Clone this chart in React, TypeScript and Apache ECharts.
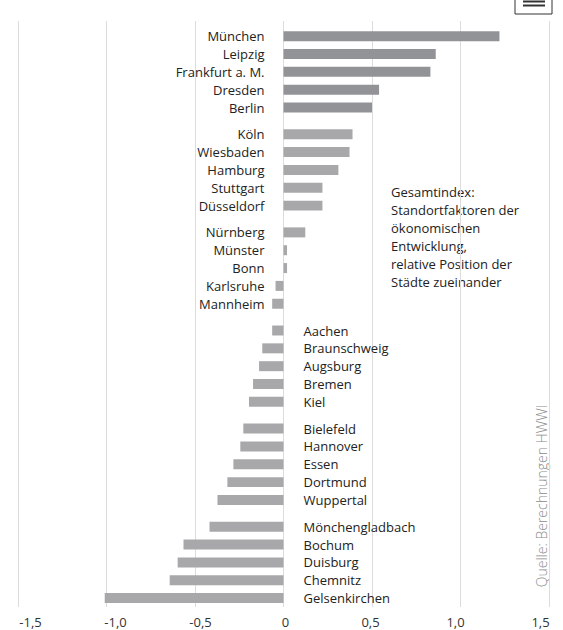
import React, { useEffect, useRef } from "react";
import * as echarts from "echarts";

const cities = [
  "München", "Leipzig", "Frankfurt a. M.", "Dresden", "Berlin",
  "Köln", "Wiesbaden", "Hamburg", "Stuttgart", "Düsseldorf",
  "Nürnberg", "Münster", "Bonn", "Karlsruhe", "Mannheim",
  "Aachen", "Braunschweig", "Augsburg", "Bremen", "Kiel",
  "Bielefeld", "Hannover", "Essen", "Dortmund", "Wuppertal",
  "Mönchengladbach", "Bochum", "Duisburg", "Chemnitz", "Gelsenkirchen",
];
const values = [
  1.22, 0.86, 0.83, 0.54, 0.5,
  0.39, 0.373, 0.31, 0.22, 0.22,
  0.123, 0.02, 0.02, -0.045, -0.064,
  -0.064, -0.12, -0.138, -0.172, -0.195,
  -0.227, -0.244, -0.283, -0.317, -0.373,
  -0.418, -0.565, -0.598, -0.643, -1.01,
];
const groups = [
  0, 0, 0, 0, 0,
  1, 1, 1, 1, 1,
  2, 2, 2, 2, 2,
  3, 3, 3, 3, 3,
  4, 4, 4, 4, 4,
  5, 5, 5, 5, 5,
];
const xTicks = [-1.5, -1.0, -0.5, 0, 0.5, 1.0, 1.5];
const xTickLabels = ["-1,5", "-1,0", "-0,5", "0", "0,5", "1,0", "1,5"];
const noteLines = [
  "Gesamtindex:",
  "Standortfaktoren der",
  "ökonomischen",
  "Entwicklung,",
  "relative Position der",
  "Städte zueinander",
];
const sourceText = "Quelle: Berechnungen HWWI";

const FONT = '"Open Sans", "DejaVu Sans", sans-serif';

export default function App() {
  const ref = useRef<HTMLDivElement>(null);
  useEffect(() => {
    document.body.style.margin = "0";
    if (!ref.current) return;
    const chart = echarts.init(ref.current, null, { renderer: "svg" });
    const rowInGroup: number[] = [];
    const counts: Record<number, number> = {};
    groups.forEach((g) => {
      counts[g] = counts[g] || 0;
      rowInGroup.push(counts[g]);
      counts[g]++;
    });
    const data = cities.map((c, i) => ({
      name: c,
      value: [values[i], groups[i] * 5.5 + rowInGroup[i], groups[i]],
    }));
    const tickLabel = (v: number) => {
      const idx = xTicks.findIndex((k) => Math.abs(k - v) < 1e-9);
      return idx >= 0 ? xTickLabels[idx] : "";
    };
    chart.setOption({
      animation: false,
      grid: [
        { left: 18, right: 14, top: 21, bottom: 23 },
        { left: 30.5, right: 22.5, top: 21, bottom: 23 },
      ],
      xAxis: [
        {
          type: "value",
          gridIndex: 0,
          min: -1.5,
          max: 1.5,
          interval: 0.5,
          axisLine: { show: false },
          axisTick: { show: false },
          axisLabel: { show: false },
          splitLine: { show: true, lineStyle: { color: "#dcdcdc", width: 1 } },
        },
        {
          type: "value",
          gridIndex: 1,
          min: -1.5,
          max: 1.5,
          interval: 0.5,
          axisLine: { show: false },
          axisTick: { show: false },
          splitLine: { show: false },
          axisLabel: {
            color: "#333",
            fontSize: 13,
            fontFamily: FONT,
            margin: 8,
            formatter: tickLabel,
          },
        },
      ],
      yAxis: [
        {
          type: "value",
          gridIndex: 0,
          inverse: true,
          min: -0.85,
          max: 32.0,
          show: false,
          splitLine: { show: false },
        },
        {
          type: "value",
          gridIndex: 1,
          min: 0,
          max: 1,
          show: false,
          splitLine: { show: false },
        },
      ],
      series: [
        {
          type: "custom",
          coordinateSystem: "cartesian2d",
          xAxisIndex: 0,
          yAxisIndex: 0,
          encode: { x: 0, y: 1 },
          data,
          renderItem: (params: any, api: any) => {
            const v = api.value(0);
            const pos = api.value(1);
            const g = api.value(2);
            const p0 = api.coord([0, pos]);
            const p1 = api.coord([v, pos]);
            const h = api.size([0, 1])[1] * 0.56;
            const x = Math.min(p0[0], p1[0]);
            const w = Math.abs(p1[0] - p0[0]);
            const left = g <= 2;
            const name = cities[params.dataIndex];
            return {
              type: "group",
              children: [
                {
                  type: "rect",
                  shape: { x, y: p0[1] - h / 2, width: w, height: h },
                  style: { fill: g === 0 ? "#929397" : "#a8a8ab" },
                },
                {
                  type: "text",
                  style: {
                    text: name,
                    x: left ? p0[0] - 19 : p0[0] + 20,
                    y: p0[1],
                    align: left ? "right" : "left",
                    verticalAlign: "middle",
                    textAlign: left ? "right" : "left",
                    textVerticalAlign: "middle",
                    fill: "#222",
                    fontSize: 13,
                    fontFamily: FONT,
                  },
                },
              ],
            };
          },
        },
      ],
      graphic: [
        {
          type: "text",
          left: 391,
          top: 183,
          style: {
            text: noteLines.join("\n"),
            fill: "#222",
            fontSize: 13,
            fontFamily: FONT,
            lineHeight: 18,
          },
        },
        {
          type: "text",
          x: 541,
          y: 496,
          rotation: Math.PI / 2,
          style: {
            text: sourceText,
            fill: "#8a8a8a",
            fontSize: 14,
            fontFamily: FONT,
            fontWeight: 300,
            align: "center",
            verticalAlign: "middle",
          },
        },
        {
          type: "rect",
          shape: { x: 515, y: -22, width: 37, height: 36 },
          style: { fill: "#fff", stroke: "#333", lineWidth: 1 },
        },
        {
          type: "line",
          shape: { x1: 523, y1: 1.5, x2: 545, y2: 1.5 },
          style: { stroke: "#333", lineWidth: 2 },
        },
        {
          type: "line",
          shape: { x1: 523, y1: 5.5, x2: 545, y2: 5.5 },
          style: { stroke: "#333", lineWidth: 2 },
        },
      ],
    });
    return () => chart.dispose();
  }, []);
  return <div ref={ref} style={{ width: 563, height: 630 }} />;
}
